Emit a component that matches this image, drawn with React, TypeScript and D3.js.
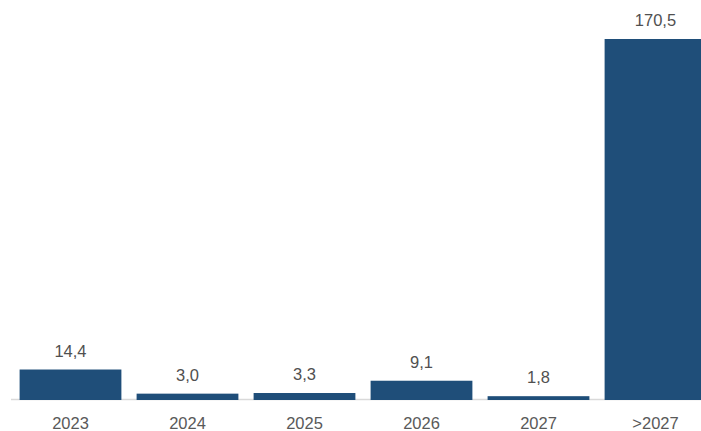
import React from "react";
import * as d3 from "d3";

const categories = ["2023", "2024", "2025", "2026", "2027", ">2027"];
const values = [14.4, 3.0, 3.3, 9.1, 1.8, 170.5];

const W = 701;
const H = 431;

export default function App() {
  const x = d3.scaleBand<string>().domain(categories).range([12, 714]).paddingInner(0.13).paddingOuter(0.065);
  const y = d3.scaleLinear().domain([0, 170.5]).range([400, 39]);
  const fmt = (v: number) => v.toFixed(1).replace(".", ",");
  return (
    <svg width={W} height={H} style={{ position: "absolute", left: 0, top: 0, background: "#fff" }}
      fontFamily="'Liberation Sans', Arial, sans-serif">
      <line x1={11} x2={W} y1={399.5} y2={399.5} stroke="#d9d9d9" strokeWidth={1.5} />
      {categories.map((c, i) => {
        const v = values[i];
        const bx = x(c)!;
        const bw = x.bandwidth();
        return (
          <g key={c}>
            <rect x={bx} y={y(v)} width={bw} height={y(0) - y(v)} fill="#1F4E79" />
            <text x={bx + bw / 2} y={y(v) - 13} textAnchor="middle" fontSize={16.5} fill="#505050">{fmt(v)}</text>
            <text x={bx + bw / 2} y={429} textAnchor="middle" fontSize={16.5} fill="#595959">{c}</text>
          </g>
        );
      })}
    </svg>
  );
}
